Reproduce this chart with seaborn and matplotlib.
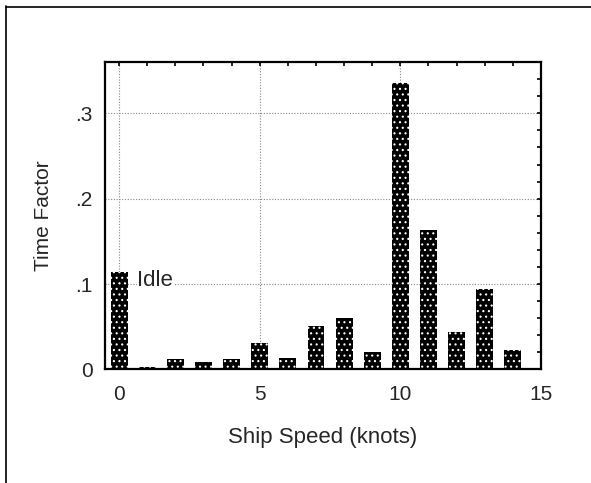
import matplotlib
matplotlib.use("Agg")
import matplotlib.pyplot as plt
from matplotlib.lines import Line2D
from matplotlib.ticker import MultipleLocator, FixedLocator
import seaborn as sns
import pandas as pd

speeds = list(range(15))
time_factor = [0.114, 0.003, 0.012, 0.009, 0.012, 0.031, 0.013, 0.051,
               0.060, 0.020, 0.336, 0.163, 0.044, 0.094, 0.023]
x_ticks = [0, 5, 10, 15]
x_ticklabels = ["0", "5", "10", "15"]
y_ticks = [0, 0.1, 0.2, 0.3]
y_ticklabels = ["0", ".1", ".2", ".3"]

sns.set_style("white")
plt.rcParams['font.family'] = ['Liberation Sans', 'DejaVu Sans']
plt.rcParams['hatch.linewidth'] = 0.8

df = pd.DataFrame({"speed": speeds, "tf": time_factor})

fig = plt.figure(figsize=(5.91, 4.83), dpi=100)
ax = fig.add_axes([0.1777, 0.235, 0.7377, 0.6366])

sns.barplot(data=df, x="speed", y="tf", ax=ax, native_scale=True,
            color="black", width=0.6, saturation=1)
for p in ax.patches:
    p.set_facecolor("black")
    p.set_edgecolor("white")
    p.set_hatch("...")
    p.set_linewidth(0)

ax.set_xlim(-0.5, 15)
ax.set_ylim(0, 0.36)
ax.xaxis.set_major_locator(FixedLocator(x_ticks))
ax.set_xticklabels(x_ticklabels)
ax.xaxis.set_minor_locator(MultipleLocator(1))
ax.yaxis.set_major_locator(FixedLocator(y_ticks))
ax.set_yticklabels(y_ticklabels)
ax.yaxis.set_minor_locator(MultipleLocator(0.02))
ax.tick_params(which="both", direction="in", top=True, right=True,
               length=3, width=1.2, color="black", labelsize=15)
ax.tick_params(axis="x", pad=11)
ax.tick_params(axis="y", pad=9)

ax.grid(True, which="major", color="#888888", linestyle=(0, (1, 1.5)), linewidth=0.8)
ax.set_axisbelow(True)
for s in ax.spines.values():
    s.set_color("black")
    s.set_linewidth(1.6)

ax.set_xlabel("Ship Speed (knots)", fontsize=16, labelpad=17)
ax.set_ylabel("Time Factor", fontsize=15, labelpad=16)
ax.text(0.65, 0.104, "Idle", fontsize=16, va="center", ha="left",
        bbox=dict(facecolor="white", edgecolor="none", pad=0.5))

fig.add_artist(Line2D([6/591, 6/591], [0, 1 - 6/483], transform=fig.transFigure,
                      color="black", linewidth=1.2))
fig.add_artist(Line2D([6/591, 1], [1 - 7/483, 1 - 7/483], transform=fig.transFigure,
                      color="black", linewidth=1.2))

fig.savefig("out.png", dpi=100)
